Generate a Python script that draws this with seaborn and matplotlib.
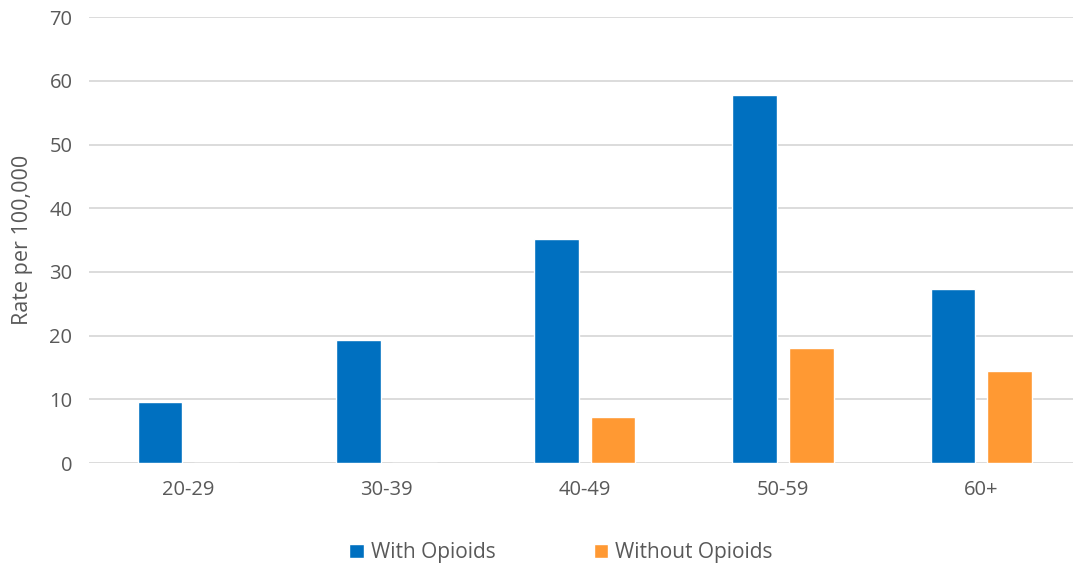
import pandas as pd
import matplotlib
matplotlib.use("Agg")
import matplotlib.pyplot as plt
import seaborn as sns

age_groups = ["20-29", "30-39", "40-49", "50-59", "60+"]
with_opioids = [9.6, 19.4, 35.2, 57.7, 27.3]
without_opioids = [0, 0, 7.2, 18.0, 14.4]
series = ["With Opioids", "Without Opioids"]
colors = ["#0070C0", "#FF9933"]

sns.set_style("white")
plt.rcParams["font.family"] = ["Open Sans", "DejaVu Sans"]

df = pd.DataFrame({
    "age": age_groups * 2,
    "rate": with_opioids + without_opioids,
    "series": [series[0]] * 5 + [series[1]] * 5,
})

fig = plt.figure(figsize=(10.73, 5.67), dpi=100)
ax = fig.add_axes([0.083, 0.183, 0.924, 0.787])

sns.barplot(data=df, x="age", y="rate", hue="series", palette=colors,
            width=0.57, gap=0.21, saturation=1, ax=ax, legend=True)

ax.set_ylim(0, 70)
ax.set_yticks(range(0, 71, 10))
ax.yaxis.grid(True, color="#D9D9D9", linewidth=1.3)
ax.set_axisbelow(True)
for s in ax.spines.values():
    s.set_visible(False)
ax.tick_params(axis="both", length=0, labelsize=14.5, colors="#595959")
ax.tick_params(axis="x", pad=12)
ax.tick_params(axis="y", pad=12)
ax.set_xlabel("")
ax.set_ylabel("Rate per 100,000", fontsize=15.5, color="#595959", labelpad=12)

handles, labels = ax.get_legend_handles_labels()
ax.legend(handles, labels, loc="upper center", bbox_to_anchor=(0.476, -0.135),
          ncol=2, frameon=False, fontsize=15, labelcolor="#595959",
          handlelength=0.7, handleheight=0.7, handletextpad=0.35,
          columnspacing=4.7)

fig.savefig("out.png", dpi=100)
